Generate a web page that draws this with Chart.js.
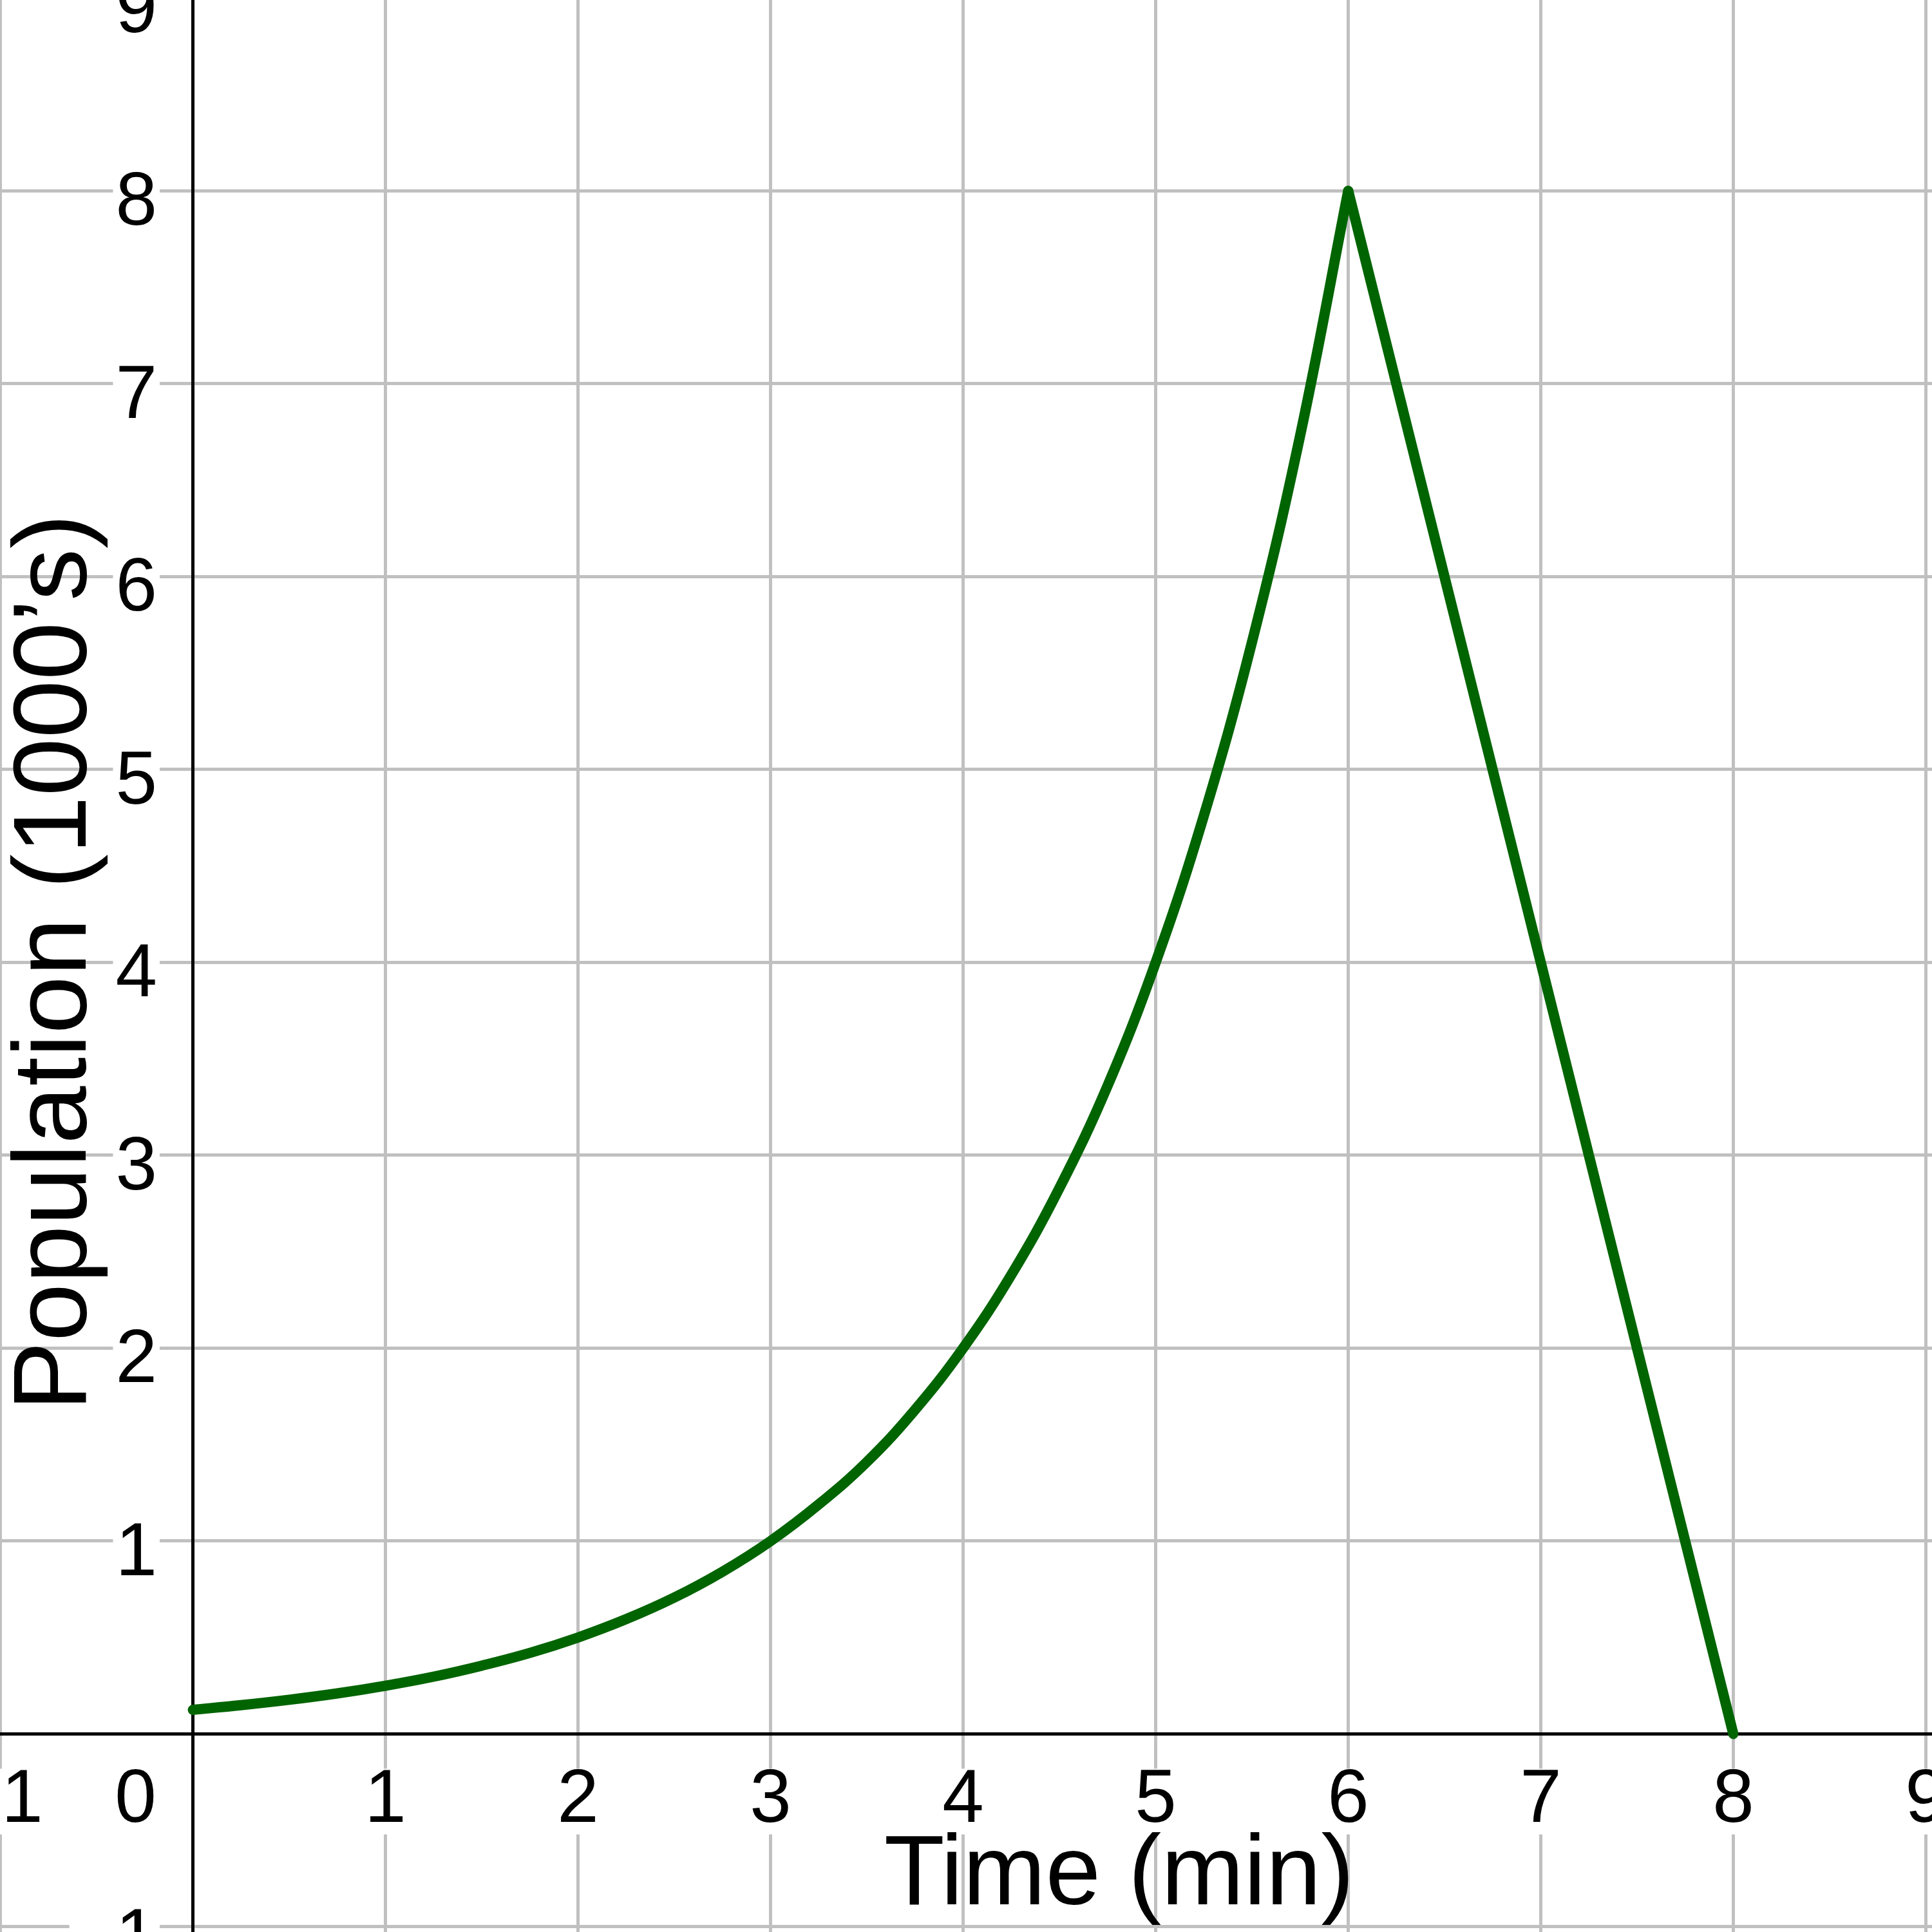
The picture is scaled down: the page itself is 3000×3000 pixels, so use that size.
<!DOCTYPE html>
<html>
<head>
<meta charset="utf-8">
<script src="https://cdn.jsdelivr.net/npm/chart.js@4.4.1/dist/chart.umd.min.js"></script>
<style>
html,body{margin:0;padding:0;background:#fff;}
#wrap{width:3000px;height:3000px;position:relative;}
</style>
</head>
<body>
<div id="wrap"><canvas id="c"></canvas></div>
<script>
// ---- data ----
const growthTime = [0, 0.25, 0.5, 0.75, 1, 1.25, 1.5, 1.75, 2, 2.25, 2.5, 2.75, 3, 3.25, 3.5, 3.75, 4, 4.25, 4.5, 4.75, 5, 5.25, 5.5, 5.75, 6];
const growthPop  = [0.125, 0.149, 0.177, 0.21, 0.25, 0.297, 0.354, 0.42, 0.5, 0.595, 0.707, 0.841, 1, 1.19, 1.41, 1.68, 2, 2.38, 2.83, 3.36, 4, 4.76, 5.66, 6.73, 8];
const declineTime = [6, 7, 8];
const declinePop  = [8, 4, 0];
const xTickLabels = [-1, 1, 2, 3, 4, 5, 6, 7, 8, 9];
const yTickLabels = [-1, 1, 2, 3, 4, 5, 6, 7, 8, 9];
const originLabel = [0];
const xTitle = 'Time (min)';
const yTitle = 'Population (1000\u2019s)';

// ---- view window ----
const X_MIN = -1.002, X_MAX = 9.032;
const Y_MIN = -1.027, Y_MAX = 8.99;
const Y_LABEL_AT = -0.186;
const X_TITLE_AT = [4.81, -0.883];
const Y_TITLE_AT = [-0.707, 4.0];

const FONT = "'Liberation Sans', Arial, sans-serif";
const GRID = 'rgb(192,192,192)';
const CURVE = 'rgb(0,100,0)';

function setTicks(values) { return scale => { scale.ticks = values.map(v => ({ value: v })); }; }
function noPad(scale) { scale.paddingLeft = 0; scale.paddingRight = 0; scale.paddingTop = 0; scale.paddingBottom = 0; }
const fmt = v => (v < 0 ? '\u2212' + Math.abs(v) : String(v));
const tickFont = { family: FONT, size: 116, lineHeight: 0.88 };
const backdrop = { showLabelBackdrop: true, backdropColor: '#fff', backdropPadding: { x: 4, y: 0 } };

const axisTitlePlugin = {
  id: 'axisTitles',
  afterDraw(chart) {
    const { ctx, scales } = chart;
    ctx.save();
    ctx.fillStyle = '#000';
    ctx.font = '154px ' + FONT;
    ctx.textAlign = 'center';
    ctx.textBaseline = 'alphabetic';
    ctx.fillText(xTitle, scales.x.getPixelForValue(X_TITLE_AT[0]), scales.y.getPixelForValue(X_TITLE_AT[1]));
    ctx.translate(scales.x.getPixelForValue(Y_TITLE_AT[0]), scales.y.getPixelForValue(Y_TITLE_AT[1]));
    ctx.rotate(-Math.PI / 2);
    ctx.font = '162px ' + FONT;
    ctx.textBaseline = 'middle';
    ctx.fillText(yTitle, 0, 0);
    ctx.restore();
  }
};

const lineStyle = {
  borderColor: CURVE, borderWidth: 16, pointRadius: 0, pointHoverRadius: 0,
  borderCapStyle: 'round', borderJoinStyle: 'round', fill: false
};

new Chart(document.getElementById('c'), {
  type: 'line',
  data: {
    datasets: [
      Object.assign({ data: growthTime.map((t, i) => ({ x: t, y: growthPop[i] })), tension: 0.4 }, lineStyle),
      Object.assign({ data: declineTime.map((t, i) => ({ x: t, y: declinePop[i] })), tension: 0 }, lineStyle)
    ]
  },
  options: {
    responsive: true,
    maintainAspectRatio: false,
    animation: false,
    devicePixelRatio: 1,
    events: [],
    layout: { padding: 0 },
    plugins: { legend: { display: false }, tooltip: { enabled: false } },
    scales: {
      x2: {
        type: 'linear', axis: 'x', min: X_MIN, max: X_MAX, position: { y: 0 },
        afterBuildTicks: setTicks(originLabel), afterFit: noPad,
        grid: { display: false, drawTicks: false },
        border: { display: false },
        ticks: Object.assign({ font: tickFont, color: '#000', padding: 54, labelOffset: -89, maxRotation: 0, autoSkip: false }, backdrop)
      },
      x: {
        type: 'linear', min: X_MIN, max: X_MAX, position: { y: 0 },
        afterBuildTicks: setTicks(xTickLabels), afterFit: noPad,
        grid: { color: GRID, lineWidth: 5, drawTicks: false },
        border: { display: true, color: '#000', width: 5 },
        ticks: Object.assign({ callback: fmt, font: tickFont, color: '#000', padding: 54, maxRotation: 0, autoSkip: false }, backdrop)
      },
      y: {
        type: 'linear', min: Y_MIN, max: Y_MAX, position: { x: Y_LABEL_AT },
        afterBuildTicks: setTicks(yTickLabels), afterFit: noPad,
        grid: { color: GRID, lineWidth: 5, drawTicks: false },
        border: { display: false },
        ticks: Object.assign({ callback: fmt, font: tickFont, color: '#000', padding: 0, labelOffset: 21, autoSkip: false }, backdrop)
      },
      yAxisLine: {
        type: 'linear', axis: 'y', min: Y_MIN, max: Y_MAX, position: { x: 0 },
        afterFit: noPad,
        grid: { display: false, drawTicks: false },
        border: { display: true, color: '#000', width: 5 },
        ticks: { display: false }
      }
    }
  },
  plugins: [axisTitlePlugin]
});
</script>
</body>
</html>
